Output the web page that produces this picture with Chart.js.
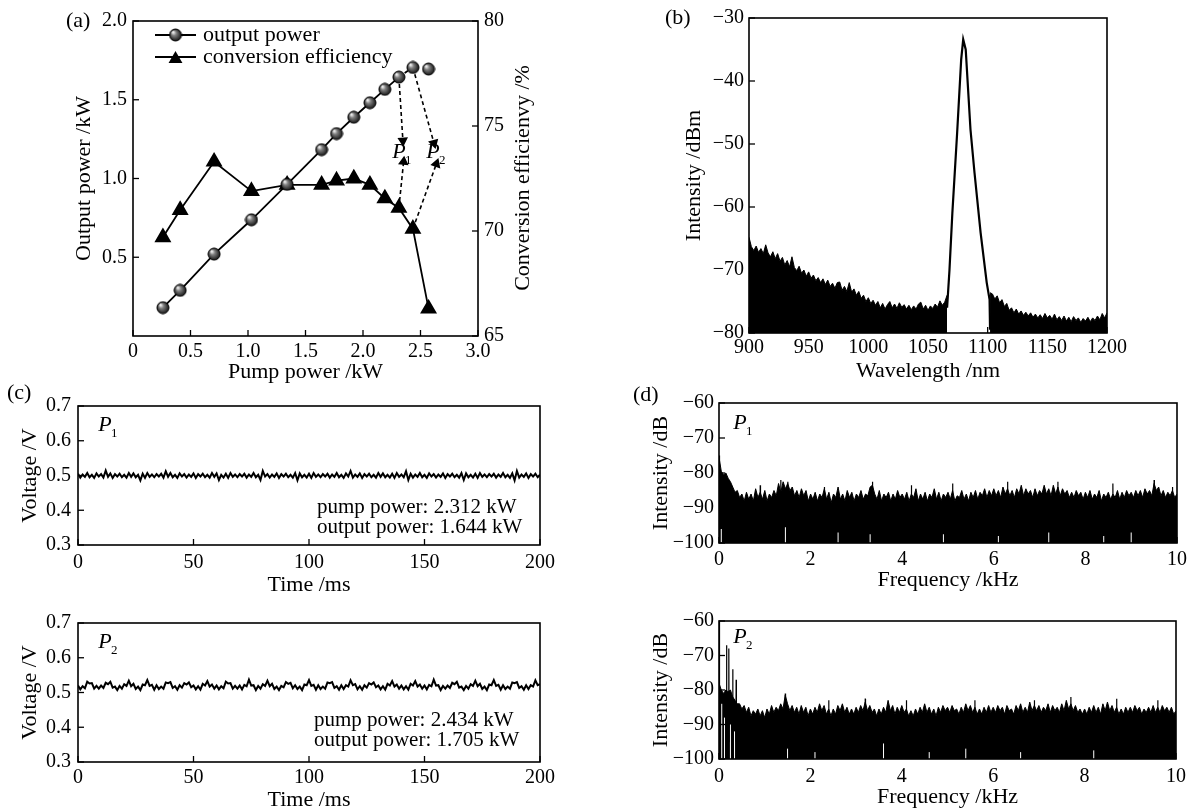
<!DOCTYPE html>
<html><head><meta charset="utf-8">
<script src="https://cdn.jsdelivr.net/npm/chart.js@4.4.1/dist/chart.umd.min.js"></script>
<style>
html,body{margin:0;padding:0;background:#fff;}
#wrap{position:relative;width:1194px;height:811px;overflow:hidden;background:#fff;}
#wrap canvas{position:absolute;left:0;top:0;}
</style></head><body><div id="wrap"></div>
<script>
// ================= DATA =================
// (a) pump power vs output power & conversion efficiency
const pumpPower = [0.26,0.41,0.705,1.03,1.34,1.64,1.77,1.92,2.06,2.19,2.312,2.434,2.57];
const outputPower = [0.18,0.29,0.52,0.738,0.963,1.183,1.285,1.389,1.481,1.566,1.644,1.705,1.695];
const conversionEfficiency = [69.7,71.0,73.3,71.9,72.2,72.2,72.4,72.5,72.2,71.55,71.1,70.1,66.3];
const arrowP1Top = [{x:2.312,y:1.644},{x:2.347,y:1.24}];
const arrowP1Bottom = [{x:2.312,y:71.1},{x:2.353,y:73.3}];
const arrowP2Top = [{x:2.434,y:1.705},{x:2.617,y:1.225}];
const arrowP2Bottom = [{x:2.434,y:70.1},{x:2.638,y:73.2}];
const aXTickVals = [0,0.5,1,1.5,2,2.5,3], aXTickLabels = ['0','0.5','1.0','1.5','2.0','2.5','3.0'];
const aYTickVals = [0.5,1,1.5,2], aYTickLabels = ['0.5','1.0','1.5','2.0'];
const aY2TickVals = [65,70,75,80], aY2TickLabels = ['65','70','75','80'];

// (b) spectrum (wavelength grid start/step, intensities in dBm)
const bNoiseLeftStart = 900, bNoiseRightStart = 1102, bStep = 2;
const bNoiseLeft = [-64.8,-66.3,-66.9,-66.2,-67.2,-66.6,-67.4,-66.0,-67.3,-67.9,-67.1,-68.2,-67.4,-68.6,-68.0,-69.2,-68.5,-69.5,-67.9,-69.6,
 -70.1,-69.4,-70.5,-70.0,-71.0,-70.3,-71.3,-70.8,-71.7,-71.2,-72.0,-71.4,-72.3,-71.6,-72.6,-72.1,-72.9,-72.0,-71.9,-73.2,
 -72.6,-73.4,-72.0,-73.5,-73.0,-74.0,-73.4,-74.5,-74.0,-75.0,-74.4,-75.3,-74.8,-75.6,-75.0,-76.0,-75.3,-76.2,-75.5,-75.0,
 -76.0,-75.4,-76.1,-75.2,-75.9,-75.5,-76.2,-75.6,-76.3,-75.7,-76.2,-75.4,-75.1,-76.2,-75.6,-76.4,-75.7,-76.1,-75.4,-75.9,
 -74.9,-75.6,-75.1,-74.0];
const bNoiseRight = [-73.6,-73.8,-74.6,-74.1,-75.2,-74.7,-75.8,-75.3,-76.4,-76.0,-76.8,-76.2,-77.0,-76.5,-77.2,-76.7,-77.3,-76.8,-77.5,-77.0,
 -77.6,-77.1,-77.7,-76.9,-77.6,-77.2,-77.8,-77.0,-77.9,-77.4,-78.0,-77.3,-78.1,-77.5,-78.2,-77.4,-78.0,-77.6,-78.3,-77.7,
 -78.1,-77.5,-78.2,-77.6,-78.0,-77.3,-77.9,-76.9,-77.6,-76.8];
const bPeakWave = [1066,1068,1070.4,1074.4,1077.8,1079.5,1081.6,1085.6,1089.0,1094.1,1099.2,1101.6,1102];
const bPeakLevel = [-76,-70,-61,-48.3,-36.6,-33.4,-35,-47.7,-54.6,-64.1,-72,-74.7,-79.5];
const bXTickVals = [900,950,1000,1050,1100,1150,1200], bXTickLabels = ['900','950','1000','1050','1100','1150','1200'];
const bYTickVals = [-80,-70,-60,-50,-40,-30], bYTickLabels = ['\u221280','\u221270','\u221260','\u221250','\u221240','\u221230'];

// (c) voltage traces, 1 ms sampling
const cTimeStep = 1;
const cVoltageP1 = [.505,.494,.503,.496,.507,.495,.502,.493,.506,.497,.504,.494,
 .514,.496,.506,.493,.504,.497,.505,.495,.502,.494,.507,.496,
 .506,.495,.502,.486,.505,.493,.507,.496,.503,.495,.504,.497,
 .505,.494,.512,.496,.507,.495,.502,.493,.506,.497,.504,.494,
 .503,.496,.506,.493,.504,.497,.505,.495,.502,.494,.507,.496,
 .506,.487,.502,.494,.505,.493,.507,.496,.503,.495,.504,.497,
 .505,.494,.503,.496,.507,.495,.502,.487,.513,.497,.504,.494,
 .503,.496,.506,.493,.504,.497,.505,.495,.502,.494,.507,.486,
 .506,.495,.502,.494,.505,.493,.507,.496,.503,.495,.504,.497,
 .505,.494,.503,.496,.507,.495,.502,.493,.506,.497,.513,.494,
 .503,.496,.506,.493,.504,.497,.505,.495,.502,.494,.507,.496,
 .506,.495,.502,.494,.505,.493,.507,.496,.503,.495,.512,.487,
 .505,.494,.503,.496,.507,.495,.502,.493,.506,.497,.504,.494,
 .503,.496,.506,.493,.504,.497,.505,.495,.502,.494,.507,.487,
 .506,.495,.502,.494,.505,.493,.507,.496,.503,.495,.504,.497,
 .505,.494,.503,.496,.507,.495,.502,.493,.506,.486,.513,.494,
 .503,.496,.506,.493,.504,.497,.505,.495,.502];
const cVoltageP2 = [.520,.509,.518,.512,.531,.526,.527,.511,.519,.511,
 .520,.513,.528,.524,.531,.514,.517,.507,.519,.511,
 .524,.519,.534,.518,.525,.510,.517,.507,.523,.521,
 .536,.519,.522,.508,.521,.510,.517,.511,.529,.527,
 .530,.513,.518,.508,.521,.514,.527,.523,.529,.515,
 .520,.509,.518,.508,.525,.520,.533,.517,.523,.511,
 .520,.509,.518,.512,.531,.526,.527,.511,.519,.511,
 .520,.509,.522,.518,.537,.520,.521,.507,.519,.511,
 .524,.519,.534,.518,.525,.510,.517,.507,.519,.515,
 .530,.525,.528,.512,.521,.510,.517,.507,.523,.521,
 .536,.519,.522,.508,.521,.510,.517,.511,.529,.527,
 .530,.513,.518,.508,.521,.510,.521,.517,.535,.521,
 .524,.509,.518,.508,.521,.514,.527,.523,.529,.515,
 .520,.509,.518,.508,.525,.520,.533,.517,.523,.511,
 .520,.509,.518,.508,.525,.520,.533,.517,.523,.511,
 .520,.509,.522,.518,.537,.520,.521,.507,.519,.511,
 .520,.513,.528,.524,.531,.514,.517,.507,.519,.511,
 .524,.519,.534,.518,.525,.510,.517,.507,.523,.521,
 .536,.519,.522,.508,.521,.510,.517,.511,.529,.527,
 .530,.513,.518,.508,.521,.510,.521,.517,.535,.521,
 .524];
const cXTickVals = [0,50,100,150,200], cXTickLabels = ['0','50','100','150','200'];
const cYTickVals = [0.3,0.4,0.5,0.6,0.7], cYTickLabels = ['0.3','0.4','0.5','0.6','0.7'];

// (d) RF spectra, 0.05 kHz sampling (upper envelope of the dense trace)
const dFreqStep = 0.05;
const dIntensityP1 = [-75.5,-79.5,-80.5,-80,-81.5,-82.5,-84,-85.5,-85,-87,-86,-88,-85.5,-87.5,-86,-88,-84.5,-87,-85.5,-87.5,
 -85,-88,-86,-87,-85,-86.5,-83,-85.5,-82.5,-84.5,-83,-85,-84,-86.5,-85,-87,-84.5,-86.5,-85,-88,
 -86,-87.5,-85.5,-88,-86,-87,-84.5,-87.5,-85.5,-88.5,-86,-87,-84,-87.5,-86,-88,-85,-87,-85.5,-88,
 -86,-87,-85,-87.5,-86,-86.5,-84,-83.5,-86,-87.5,-85,-88,-86,-87,-85.5,-88,-86,-87.5,-85,-87,
 -86,-87.5,-85.5,-88,-86,-87,-84.5,-88,-86,-87.5,-85.5,-88,-86,-87,-84.5,-87.5,-85.5,-88,-86,-87,
 -85.5,-87.5,-85,-88,-86.5,-87,-85,-87.5,-86,-88,-85.5,-87,-85,-87.5,-85.5,-86.5,-84.5,-87,-85,-86.5,
 -84.5,-86.5,-85,-87,-84,-86,-84.5,-86.5,-85,-87,-84.5,-86,-83.5,-86.5,-84.5,-86,-85,-87,-84.5,-86.5,
 -85,-86,-83.5,-86,-84.5,-86.5,-83.5,-86,-84,-86.5,-84.5,-86,-85,-87,-85.5,-87,-85,-86.5,-85.5,-87.5,
 -85.5,-87,-85,-87.5,-86,-87,-85,-88,-86,-87,-85.5,-87.5,-86,-87,-85,-87.5,-85.5,-87,-85,-86.5,
 -85.5,-87,-85,-86.5,-85,-87,-84.5,-86,-85,-86.5,-83,-85,-84,-86.5,-85,-87,-85.5,-86.5,-85,-87,
 -86];
const dIntensityP2 = [-78,-80,-81,-80,-80.5,-80,-82,-83,-84,-84,-85.5,-84.5,-86.5,-85,-87.5,-86,-87,-85.5,-87.5,-86,
 -88,-85.5,-87,-84.5,-86.5,-85,-86,-84,-85.5,-81.5,-84,-86,-84.5,-86.5,-85,-87,-84.5,-86.5,-85,-87.5,
 -85.5,-87,-85,-86.5,-84,-86,-84.5,-87,-85.5,-87.5,-85.5,-87,-84.5,-86,-84,-86.5,-85,-87,-85.5,-87,
 -85,-86.5,-84.5,-86,-83.5,-86,-84.5,-86.5,-85.5,-87.5,-85.5,-87,-85,-86.5,-83,-86,-84.5,-87,-85,-86.5,
 -84.5,-86.5,-85.5,-87.5,-86,-87.5,-85.5,-87,-85,-86.5,-84,-86.5,-85,-87,-85.5,-87.5,-85,-86.5,-84.5,-86,
 -85,-86.5,-84.5,-86,-85.5,-87,-85,-86.5,-84,-86,-84.5,-86.5,-85,-87,-85.5,-87,-85,-86.5,-84.5,-86.5,
 -85,-86.5,-84.5,-86,-85,-87,-84.5,-86,-85.5,-87,-84.5,-86,-84,-86.5,-85,-86.5,-83.5,-86,-84.5,-86,
 -84.5,-86.5,-85,-86,-84,-86.5,-84.5,-86,-85,-86.5,-84,-86,-83,-85.5,-84,-86,-84.5,-86.5,-85.5,-87,
 -85.5,-87,-85,-86.5,-84.5,-86.5,-85,-87,-84,-86,-83.5,-86,-84.5,-86.5,-85,-87,-85.5,-87,-85,-86.5,
 -85,-86.5,-84.5,-86,-85,-87,-85.5,-86.5,-85,-86.5,-84.5,-86.5,-85,-86.5,-84.5,-86,-85,-86.5,-85,-87,
 -86];
// narrow needle spikes above the dense trace: [frequency kHz, peak dB]
const dSpikesP1 = [[0.008,-75],[0.9,-83.5],[1.35,-82],[1.5,-82.5],[2.3,-84],[3.35,-82.5],[4.2,-83.5],[5.1,-83],
 [6.3,-82.5],[7.4,-82.5],[8.6,-83],[9.5,-82],[9.9,-84]];
const dSpikesP2 = [[0.008,-60],[0.165,-67],[0.215,-68],[0.3,-74],[0.375,-77],[1.45,-81],[2.4,-83],[3.2,-82.5],
 [4.1,-83],[5.6,-83],[6.9,-83],[7.7,-82],[8.7,-82.5],[9.6,-83]];
// thin white dropouts inside the dense trace: [frequency kHz, top dB]
const dGapsP1 = [[0.05,-96],[1.45,-95.5],[2.6,-97],[3.3,-97.5],[4.9,-97.5],[6.1,-98],[7.2,-97],[8.4,-98],[9.0,-97]];
const dGapsP2 = [[0.06,-84],[0.12,-88],[0.25,-90],[0.34,-92],[1.5,-97],[2.1,-98],[3.6,-95.5],[4.6,-98],[5.4,-97],[6.6,-98],[8.2,-97.5]];
const dXTickVals = [0,2,4,6,8,10], dXTickLabels = ['0','2','4','6','8','10'];
const dYTickVals = [-100,-90,-80,-70,-60], dYTickLabels = ['\u2212100','\u221290','\u221280','\u221270','\u221260'];

// ================= HELPERS =================
const FONT = "'Liberation Serif','Times New Roman',serif";
const W = 1194, H = 811;
function xy(xs, ys){ return xs.map((x,i)=>({x, y: ys[i]})); }
function grid(x0, step, ys){ return ys.map((y,i)=>({x: +(x0 + i*step).toFixed(4), y})); }
function gaps(list){ const out=[]; list.forEach(([f,t])=>{ out.push({x:f,y:-100},{x:f,y:t},{x:f,y:null}); }); return out; }
function spikes(list){ const out=[]; list.forEach(([f,t])=>{ out.push({x:f-0.006,y:-95},{x:f,y:t},{x:f+0.006,y:-95},{x:f,y:null}); }); return out; }

function scale(o){
  return {
    type:'linear', position:o.pos, min:o.min, max:o.max,
    grid:{display:false, drawTicks:false}, border:{display:false},
    afterBuildTicks: s => { s.ticks = o.vals.map(v=>({value:v})); },
    afterFit: s => { if (o.pos==='bottom') s.height = o.size; else s.width = o.size; },
    ticks:{ autoSkip:false, maxRotation:0, minRotation:0, padding:o.pad, color:'#000',
      font:{family:FONT,size:20,lineHeight:1}, callback:(v,i)=>o.labels[i] },
    title:{ display:!!o.title, text:o.title||'', color:'#000', padding:0,
      font:{family:FONT,size:22,lineHeight:1} }
  };
}

function sphere(r){
  const c=document.createElement('canvas'); const s=2*r+2; c.width=s; c.height=s;
  const g=c.getContext('2d');
  const gr=g.createRadialGradient(r*0.75, r*0.7, r*0.1, r+1, r+1, r);
  gr.addColorStop(0,'#f0f0f0'); gr.addColorStop(0.35,'#808080'); gr.addColorStop(1,'#151515');
  g.fillStyle=gr; g.beginPath(); g.arc(r+1,r+1,r,0,Math.PI*2); g.fill();
  g.strokeStyle='#000'; g.lineWidth=1; g.stroke();
  return c;
}
const SPHERE = sphere(6);

function tri(ctx,x,y,r){
  ctx.beginPath();
  ctx.moveTo(x, y-r); ctx.lineTo(x+r*Math.sin(2*Math.PI/3), y - r*Math.cos(2*Math.PI/3));
  ctx.lineTo(x+r*Math.sin(4*Math.PI/3), y - r*Math.cos(4*Math.PI/3)); ctx.closePath(); ctx.fill();
}

const decor = {
  id:'decor',
  afterDraw(chart, args, opts){
    const ctx = chart.ctx, a = chart.chartArea;
    ctx.save();
    ctx.strokeStyle='#000'; ctx.fillStyle='#000';
    ctx.lineWidth = 1.3;
    (opts.tickAxes||[]).forEach(id=>{
      const s = chart.scales[id];
      s.ticks.forEach(t=>{
        const p = s.getPixelForValue(t.value);
        ctx.beginPath();
        if (s.position==='bottom'){ ctx.moveTo(p, a.bottom); ctx.lineTo(p, a.bottom-6); }
        else if (s.position==='left'){ ctx.moveTo(a.left, p); ctx.lineTo(a.left+6, p); }
        else { ctx.moveTo(a.right, p); ctx.lineTo(a.right-6, p); }
        ctx.stroke();
      });
    });
    ctx.lineWidth = 1.6;
    ctx.strokeRect(a.left, a.top, a.right-a.left, a.bottom-a.top);
    (opts.texts||[]).forEach(t=>{
      ctx.save();
      ctx.font = (t.italic?'italic ':'') + (t.size||22) + 'px ' + FONT;
      ctx.textAlign = t.align||'left'; ctx.textBaseline = 'middle';
      ctx.translate(t.x, t.y);
      if (t.rot) ctx.rotate(t.rot*Math.PI/180);
      ctx.fillText(t.text, 0, 0);
      if (t.sub){ ctx.font = '13px ' + FONT; ctx.textAlign='left'; ctx.fillText(t.sub, 6, 9); }
      ctx.restore();
    });
    (opts.legend||[]).forEach(l=>{
      ctx.lineWidth = 1.8;
      ctx.beginPath(); ctx.moveTo(l.x0, l.y); ctx.lineTo(l.x1, l.y); ctx.stroke();
      const mx = (l.x0+l.x1)/2;
      if (l.marker==='sphere') ctx.drawImage(SPHERE, mx-SPHERE.width/2, l.y-SPHERE.height/2);
      else tri(ctx, mx, l.y+2, 8);
      ctx.font = '22px ' + FONT; ctx.textAlign='left'; ctx.textBaseline='middle';
      ctx.fillText(l.text, l.x1+7, l.y);
    });
    ctx.restore();
  }
};

function makeChart(datasets, scales, pad, decorOpts){
  const c=document.createElement('canvas'); c.width=W; c.height=H;
  c.style.width=W+'px'; c.style.height=H+'px';
  document.getElementById('wrap').appendChild(c);
  return new Chart(c, {
    type:'line',
    data:{datasets},
    options:{
      responsive:false, animation:false, devicePixelRatio:1, events:[],
      layout:{padding:pad},
      plugins:{legend:{display:false}, tooltip:{enabled:false}, decor:decorOpts},
      scales
    },
    plugins:[decor]
  });
}

function arrowDs(points, yId){
  return {
    data: points, yAxisID: yId, borderColor:'#000', backgroundColor:'#000', borderWidth:1.6,
    borderDash:[4,3], pointRadius:[0,4.5], pointStyle:'triangle', order:5,
    pointRotation: ctx => {
      const c=ctx.chart, sx=c.scales.x, sy=c.scales[yId];
      const dx = sx.getPixelForValue(points[1].x)-sx.getPixelForValue(points[0].x);
      const dy = sy.getPixelForValue(points[1].y)-sy.getPixelForValue(points[0].y);
      return Math.atan2(dx,-dy)*180/Math.PI;
    }
  };
}

// ================= (a) =================
makeChart([
  { data: xy(pumpPower, outputPower), yAxisID:'y', borderColor:'#000', borderWidth:1.8,
    pointStyle:SPHERE, pointRadius:6, order:1,
    segment:{
      borderDash: ctx => ctx.p0DataIndex===10 ? [4,3] : undefined,
      borderColor: ctx => ctx.p0DataIndex===11 ? 'rgba(0,0,0,0)' : undefined
    } },
  { data: xy(pumpPower, conversionEfficiency), yAxisID:'y1', borderColor:'#000', backgroundColor:'#000',
    borderWidth:1.8, pointStyle:'triangle', pointRadius:8, order:2 },
  arrowDs(arrowP1Top,'y'), arrowDs(arrowP1Bottom,'y1'), arrowDs(arrowP2Top,'y'), arrowDs(arrowP2Bottom,'y1')
], {
  x: scale({pos:'bottom',min:0,max:3,vals:aXTickVals,labels:aXTickLabels,size:47,pad:6,title:'Pump power /kW'}),
  y: scale({pos:'left',min:0,max:2,vals:aYTickVals,labels:aYTickLabels,size:60,pad:6,title:'Output power /kW'}),
  y1: scale({pos:'right',min:65,max:80,vals:aY2TickVals,labels:aY2TickLabels,size:45,pad:6})
}, {left:73, top:21, right:W-478-45, bottom:H-336-47}, {
  tickAxes:['x','y','y1'],
  texts:[
    {text:'(a)', x:66, y:21},
    {text:'Conversion efficienvy /%', x:523, y:178, rot:-90, align:'center'},
    {text:'P', x:399, y:152, italic:true, align:'center', sub:'1'},
    {text:'P', x:433, y:152, italic:true, align:'center', sub:'2'}
  ],
  legend:[
    {x0:155, x1:196, y:35, marker:'sphere', text:'output power'},
    {x0:155, x1:196, y:57, marker:'tri', text:'conversion efficiency'}
  ]
});

// ================= (b) =================
makeChart([
  { data: grid(bNoiseLeftStart, bStep, bNoiseLeft), borderColor:'#000', backgroundColor:'#000', borderWidth:1,
    pointRadius:0, fill:'start' },
  { data: grid(bNoiseRightStart, bStep, bNoiseRight), borderColor:'#000', backgroundColor:'#000', borderWidth:1,
    pointRadius:0, fill:'start' },
  { data: xy(bPeakWave, bPeakLevel), borderColor:'#000', borderWidth:2.2, pointRadius:0, fill:false }
], {
  x: scale({pos:'bottom',min:900,max:1200,vals:bXTickVals,labels:bXTickLabels,size:49,pad:5,title:'Wavelength /nm'}),
  y: scale({pos:'left',min:-80,max:-30,vals:bYTickVals,labels:bYTickLabels,size:66,pad:5,title:'Intensity /dBm'})
}, {left:749-66, top:18, right:W-1107, bottom:H-333-49}, {
  tickAxes:['x','y'],
  texts:[{text:'(b)', x:665, y:18}]
});

// ================= (c) =================
function cChart(values, top, bottom, xSize, xPad, texts){
  makeChart([
    { data: grid(0, cTimeStep, values), borderColor:'#000', borderWidth:2, pointRadius:0, fill:false }
  ], {
    x: scale({pos:'bottom',min:0,max:200,vals:cXTickVals,labels:cXTickLabels,size:xSize,pad:xPad,title:'Time /ms'}),
    y: scale({pos:'left',min:0.3,max:0.7,vals:cYTickVals,labels:cYTickLabels,size:59,pad:7,title:'Voltage /V'})
  }, {left:78-59, top:top, right:W-540, bottom:H-bottom-xSize}, {tickAxes:['x','y'], texts});
}
cChart(cVoltageP1, 406, 545, 51, 8, [
  {text:'(c)', x:7, y:393},
  {text:'P', x:105, y:425, italic:true, align:'center', sub:'1'},
  {text:'pump power: 2.312 kW', x:317, y:507, size:21},
  {text:'output power: 1.644 kW', x:317, y:527, size:21}
]);
cChart(cVoltageP2, 623, 762, 49, 6, [
  {text:'P', x:105, y:642, italic:true, align:'center', sub:'2'},
  {text:'pump power: 2.434 kW', x:314, y:720, size:21},
  {text:'output power: 1.705 kW', x:314, y:740, size:21}
]);

// ================= (d) =================
function dChart(values, gapList, spikeList, top, bottom, xSize, xPad, texts){
  makeChart([
    { data: gaps(gapList), borderColor:'#fff', borderWidth:1, pointRadius:0, fill:false, spanGaps:false, order:1 },
    { data: spikes(spikeList), borderColor:'#000', borderWidth:1.2, pointRadius:0, fill:false, spanGaps:false, order:0 },
    { data: grid(0, dFreqStep, values), borderColor:'#000', backgroundColor:'#000', borderWidth:1,
      pointRadius:0, fill:'start', order:2 }
  ], {
    x: scale({pos:'bottom',min:0,max:10,vals:dXTickVals,labels:dXTickLabels,size:xSize,pad:xPad,title:'Frequency /kHz'}),
    y: scale({pos:'left',min:-100,max:-60,vals:dYTickVals,labels:dYTickLabels,size:69,pad:5,title:'Intensity /dB'})
  }, {left:719-69, top:top, right:W-1179, bottom:H-bottom-xSize}, {tickAxes:['x','y'], texts});
}
dChart(dIntensityP1, dGapsP1, dSpikesP1, 403, 543, 48, 7, [
  {text:'(d)', x:633, y:395},
  {text:'P', x:740, y:423, italic:true, align:'center', sub:'1'}
]);
dChart(dIntensityP2, dGapsP2, dSpikesP2, 621, 759, 49, 8, [
  {text:'P', x:740, y:637, italic:true, align:'center', sub:'2'}
]);
</script></body></html>
